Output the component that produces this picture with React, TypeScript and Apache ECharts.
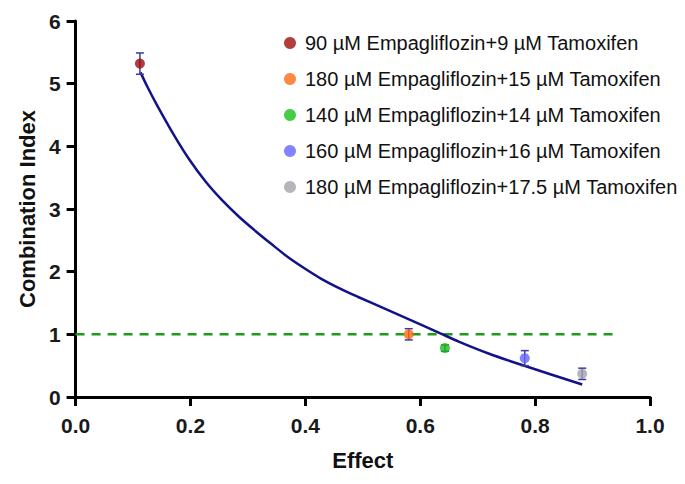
import React, { useEffect, useRef } from "react";
import * as echarts from "echarts";

const seriesNames = [
  "90 µM Empagliflozin+9 µM Tamoxifen",
  "180 µM Empagliflozin+15 µM Tamoxifen",
  "140 µM Empagliflozin+14 µM Tamoxifen",
  "160 µM Empagliflozin+16 µM Tamoxifen",
  "180 µM Empagliflozin+17.5 µM Tamoxifen",
];
const seriesColors = ["#a00d0d", "#ff6a13", "#17c117", "#6464ff", "#a2a2aa"];
const effectValues = [0.112, 0.58, 0.643, 0.782, 0.882];
const ciValues = [5.32, 1.0, 0.78, 0.62, 0.37];
const ciErrors = [0.17, 0.09, 0.05, 0.12, 0.09];

const curveEffect = [0.113, 0.125, 0.141, 0.17, 0.198, 0.227, 0.255, 0.284, 0.313, 0.341, 0.37, 0.399, 0.427, 0.456, 0.491, 0.548, 0.605, 0.634, 0.668, 0.72, 0.784, 0.882];
const curveCI = [5.18, 4.95, 4.67, 4.2, 3.79, 3.43, 3.14, 2.88, 2.65, 2.44, 2.23, 2.05, 1.89, 1.75, 1.6, 1.37, 1.14, 1.02, 0.88, 0.69, 0.49, 0.2];

const refLineX = [0, 0.945];
const refLineY = [1, 1];

export default function App() {
  const ref = useRef<HTMLDivElement>(null);
  useEffect(() => {
    if (!ref.current) return;
    const chart = echarts.init(ref.current, null, { renderer: "svg" });
    const font = "'Liberation Sans', Arial, sans-serif";
    const errColor = "#3b3b9a";

    const scatterSeries = seriesNames.map((name, i) => ({
      name,
      type: "scatter",
      data: [[effectValues[i], ciValues[i]]],
      symbol: "circle",
      symbolSize: 10,
      itemStyle: { color: seriesColors[i] },
      z: 5,
    }));

    const errSeries = {
      type: "custom",
      name: "err",
      data: effectValues.map((x, i) => [x, ciValues[i] - ciErrors[i], ciValues[i] + ciErrors[i]]),
      renderItem: (params: any, api: any) => {
        const x = api.value(0);
        const lo = api.coord([x, api.value(1)]);
        const hi = api.coord([x, api.value(2)]);
        const w = 4;
        const style = { stroke: errColor, lineWidth: 1.5 };
        return {
          type: "group",
          children: [
            { type: "line", shape: { x1: lo[0], y1: lo[1], x2: hi[0], y2: hi[1] }, style },
            { type: "line", shape: { x1: lo[0] - w, y1: lo[1], x2: lo[0] + w, y2: lo[1] }, style },
            { type: "line", shape: { x1: hi[0] - w, y1: hi[1], x2: hi[0] + w, y2: hi[1] }, style },
          ],
        };
      },
      z: 4,
      silent: true,
    };

    chart.setOption({
      animation: false,
      backgroundColor: "#ffffff",
      grid: { left: 60, right: 27, top: 13, bottom: 69, containLabel: false },
      legend: {
        data: seriesNames,
        orient: "vertical",
        left: 271,
        top: 19,
        icon: "circle",
        itemWidth: 20,
        itemHeight: 12,
        itemGap: 14,
        textStyle: { fontFamily: font, fontSize: 20, color: "#111", lineHeight: 22 },
      },
      xAxis: {
        type: "value",
        min: 0,
        max: 1,
        interval: 0.2,
        name: "Effect",
        nameLocation: "middle",
        nameGap: 52,
        nameTextStyle: { fontFamily: font, fontSize: 22, fontWeight: "bold", color: "#111" },
        axisLine: { show: true, onZero: false, lineStyle: { color: "#000", width: 3 } },
        axisTick: { show: true, length: 9, lineStyle: { color: "#000", width: 3 } },
        axisLabel: {
          fontFamily: font,
          fontSize: 21,
          fontWeight: "bold",
          color: "#1a1a1a",
          margin: 18,
          formatter: (v: number) => v.toFixed(1),
        },
        splitLine: { show: false },
      },
      yAxis: {
        type: "value",
        min: 0,
        max: 6,
        interval: 1,
        name: "Combination Index",
        nameLocation: "middle",
        nameGap: 36,
        nameRotate: 90,
        nameTextStyle: { fontFamily: font, fontSize: 22, fontWeight: "bold", color: "#111" },
        axisLine: { show: true, onZero: false, lineStyle: { color: "#000", width: 3 } },
        axisTick: { show: true, length: 9, lineStyle: { color: "#000", width: 3 } },
        axisLabel: { fontFamily: font, fontSize: 21, fontWeight: "bold", color: "#1a1a1a", margin: 15 },
        splitLine: { show: false },
      },
      series: [
        {
          type: "line",
          name: "ref",
          data: refLineX.map((x, i) => [x, refLineY[i]]),
          symbol: "none",
          lineStyle: { color: "#1f9a1f", width: 2.5, type: [9, 7] },
          z: 2,
          silent: true,
        },
        {
          type: "line",
          name: "fit",
          data: curveEffect.map((x, i) => [x, curveCI[i]]),
          symbol: "none",
          smooth: 0.3,
          lineStyle: { color: "#12128a", width: 2.5 },
          z: 3,
          silent: true,
        },
        errSeries,
        ...scatterSeries,
      ],
    });
    return () => chart.dispose();
  }, []);
  return <div ref={ref} style={{ width: 669, height: 468 }} />;
}
